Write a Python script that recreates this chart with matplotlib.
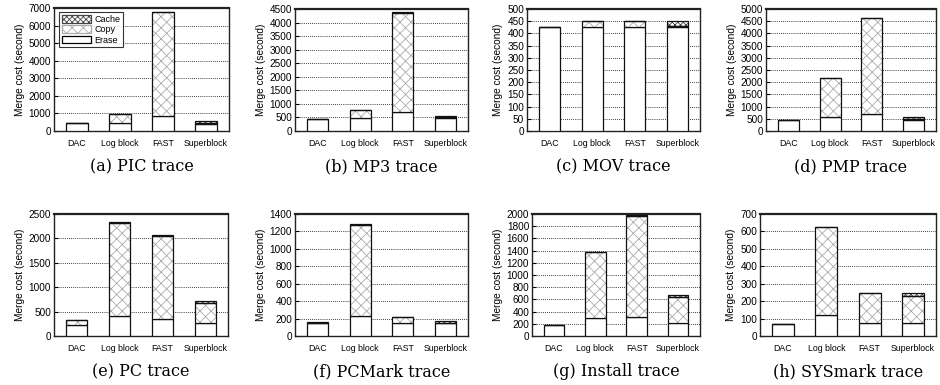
import matplotlib
matplotlib.use("Agg")
import matplotlib.pyplot as plt
import numpy as np
from matplotlib.patches import Patch

categories = ["DAC", "Log block", "FAST", "Superblock"]
captions = ["(a) PIC trace", "(b) MP3 trace", "(c) MOV trace", "(d) PMP trace",
            "(e) PC trace", "(f) PCMark trace", "(g) Install trace", "(h) SYSmark trace"]

# stacked components per trace: Erase (bottom), Copy (middle), Cache (top)
erase = {
    "PIC": [430, 475, 855, 420],
    "MP3": [440, 467, 700, 480],
    "MOV": [425, 425, 425, 425],
    "PMP": [440, 560, 710, 450],
    "PC": [230, 410, 355, 260],
    "PCMark": [145, 226, 153, 145],
    "Install": [185, 300, 307, 220],
    "SYSmark": [67, 119, 77, 77],
}
copy = {
    "PIC": [0, 470, 5895, 50],
    "MP3": [0, 290, 3650, 20],
    "MOV": [0, 25, 25, 5],
    "PMP": [0, 1620, 3910, 60],
    "PC": [95, 1910, 1700, 410],
    "PCMark": [0, 1050, 60, 0],
    "Install": [0, 1070, 1660, 420],
    "SYSmark": [0, 509, 171, 151],
}
cache = {
    "PIC": [15, 10, 50, 100],
    "MP3": [0, 5, 25, 50],
    "MOV": [0, 0, 0, 22],
    "PMP": [20, 5, 25, 80],
    "PC": [10, 10, 5, 45],
    "PCMark": [10, 5, 0, 25],
    "Install": [0, 0, 17, 28],
    "SYSmark": [0, 0, 0, 16],
}
traces = ["PIC", "MP3", "MOV", "PMP", "PC", "PCMark", "Install", "SYSmark"]
ymax = [7000, 4500, 500, 5000, 2500, 1400, 2000, 700]
ystep = [1000, 500, 50, 500, 500, 200, 200, 100]

plt.rcParams["hatch.linewidth"] = 0.6

W, H = 940, 385
fig = plt.figure(figsize=(W / 100, H / 100), dpi=100)

# axes boxes in pixels: left, right, top, bottom
boxes = [
    (54, 229, 8, 131), (295, 468, 9, 131), (527, 700, 9, 131), (766, 936, 9, 131),
    (54, 228, 214, 336), (295, 468, 214, 336), (532, 700, 214, 336), (760, 936, 214, 336),
]
sans = "Liberation Sans"
copy_col = "#aaaaaa"
cache_col = "#444444"
copy_hatch = "xxx"
cache_hatch = "xxxxxx"
x = np.arange(len(categories))
bw = 0.5
for i, tr in enumerate(traces):
    l, r, t, b = boxes[i]
    ax = fig.add_axes([l / W, 1 - b / H, (r - l) / W, (b - t) / H])
    e = np.array(erase[tr], float)
    c = np.array(copy[tr], float)
    k = np.array(cache[tr], float)
    # Erase
    ax.bar(x, e, bw, color="white", edgecolor="#111111", linewidth=0.9, zorder=3)
    # Copy
    ax.bar(x, c, bw, bottom=e, color="white", edgecolor=copy_col, hatch=copy_hatch,
           linewidth=0, zorder=3)
    ax.bar(x, c, bw, bottom=e, fill=False, edgecolor="#111111", linewidth=0.9, zorder=4)
    # Cache
    ax.bar(x, k, bw, bottom=e + c, color="white", edgecolor=cache_col, hatch=cache_hatch,
           linewidth=0, zorder=3)
    ax.bar(x, k, bw, bottom=e + c, fill=False, edgecolor="#111111", linewidth=0.9, zorder=4)

    ax.set_xlim(-0.53, 3.53)
    ax.set_ylim(0, ymax[i])
    ax.set_yticks(np.arange(0, ymax[i] + 1, ystep[i]))
    ax.set_xticks(x)
    ax.set_xticklabels(categories, fontsize=6.3, family=sans)
    ax.tick_params(axis="x", length=0, pad=6)
    ax.tick_params(axis="y", direction="in", length=3, labelsize=7.2, pad=2)
    for lab in ax.get_yticklabels():
        lab.set_family(sans)
    ax.yaxis.grid(True, linestyle=(0, (1, 1.5)), color="black", linewidth=0.6, zorder=0)
    ax.set_axisbelow(True)
    for s in ax.spines.values():
        s.set_linewidth(1.0)
        s.set_color("#222222")
    ax.spines["top"].set_linewidth(1.6)
    ax.set_ylabel("Merge cost (second)", fontsize=7.3, family=sans, labelpad=3)
    cx = (l + r) / 2 / W
    cy = 1 - (b + 36) / H
    fig.text(cx, cy, captions[i], ha="center", va="center", fontsize=11.5,
             family="DejaVu Serif")

    if i == 0:
        handles = [
            Patch(facecolor="white", edgecolor=cache_col, hatch=cache_hatch, linewidth=0.9),
            Patch(facecolor="white", edgecolor=copy_col, hatch=copy_hatch, linewidth=0.9),
            Patch(facecolor="white", edgecolor="black", linewidth=0.9),
        ]
        leg = ax.legend(handles, ["Cache", "Copy", "Erase"], loc="upper left",
                        bbox_to_anchor=(0.02, 0.98), prop={"family": sans, "size": 6.5},
                        frameon=True, fancybox=False, edgecolor="black",
                        handlelength=3.2, handleheight=0.9, borderpad=0.3,
                        labelspacing=0.15, handletextpad=0.4, borderaxespad=0.2)
        leg.get_frame().set_linewidth(0.8)
        leg.set_zorder(10)

fig.savefig("out.png", dpi=100)
